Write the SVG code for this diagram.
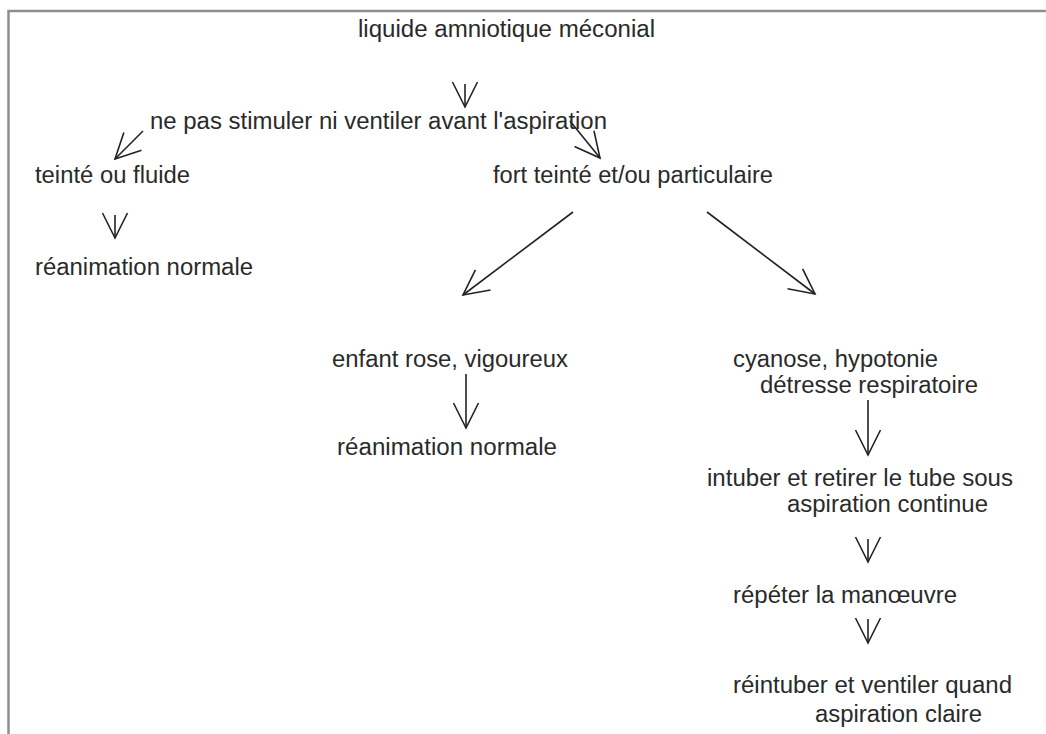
<svg xmlns="http://www.w3.org/2000/svg" width="1046" height="734" viewBox="0 0 1046 734">
<style>
text{font-family:"Liberation Sans",Arial,sans-serif;font-size:23px;fill:#2a2a2a}
.c{fill:none;stroke:#222;stroke-width:1.6}
</style>
<defs>
<marker id="ah" markerUnits="userSpaceOnUse" orient="auto" overflow="visible" markerWidth="1" markerHeight="1" refX="0" refY="0">
<path d="M-25,-12.5 L0,0 L-25,12.5" fill="none" stroke="#222" stroke-width="1.6"/>
</marker>
</defs>
<rect x="0" y="0" width="1046" height="734" fill="#fff"/>
<rect x="8.5" y="11" width="1060" height="760" fill="none" stroke="#8e8e8e" stroke-width="2.5"/>
<g id="n1"><text x="358" y="37" textLength="297" lengthAdjust="spacingAndGlyphs">liquide amniotique méconial</text></g>
<g id="n2"><text x="150" y="129" textLength="457" lengthAdjust="spacingAndGlyphs">ne pas stimuler ni ventiler avant l'aspiration</text></g>
<g id="n3"><text x="35" y="183" textLength="155" lengthAdjust="spacingAndGlyphs">teinté ou fluide</text></g>
<g id="n4"><text x="35" y="275" textLength="218" lengthAdjust="spacingAndGlyphs">réanimation normale</text></g>
<g id="n5"><text x="493" y="183" textLength="280" lengthAdjust="spacingAndGlyphs">fort teinté et/ou particulaire</text></g>
<g id="n6"><text x="332" y="367" textLength="236" lengthAdjust="spacingAndGlyphs">enfant rose, vigoureux</text></g>
<g id="n7"><text x="337" y="455" textLength="220" lengthAdjust="spacingAndGlyphs">réanimation normale</text></g>
<g id="n8"><text x="733" y="367" textLength="205" lengthAdjust="spacingAndGlyphs">cyanose, hypotonie</text><text x="760" y="393" textLength="218" lengthAdjust="spacingAndGlyphs">détresse respiratoire</text></g>
<g id="n9"><text x="707" y="486" textLength="306" lengthAdjust="spacingAndGlyphs">intuber et retirer le tube sous</text><text x="787" y="512" textLength="201" lengthAdjust="spacingAndGlyphs">aspiration continue</text></g>
<g id="n10"><text x="733" y="603" textLength="224" lengthAdjust="spacingAndGlyphs">répéter la manœuvre</text></g>
<g id="n11"><text x="733" y="693" textLength="279" lengthAdjust="spacingAndGlyphs">réintuber et ventiler quand</text><text x="815" y="722" textLength="167" lengthAdjust="spacingAndGlyphs">aspiration claire</text></g>
<g id="connectors">
<path class="c" marker-end="url(#ah)" d="M465,84 L465,107"/>
<path class="c" marker-end="url(#ah)" d="M143,131 L115,159"/>
<path class="c" marker-end="url(#ah)" d="M570,121 L600,158"/>
<path class="c" marker-end="url(#ah)" d="M115,215 L115,238"/>
<path class="c" marker-end="url(#ah)" d="M573,212 L463,295"/>
<path class="c" marker-end="url(#ah)" d="M707,212 L815,294"/>
<path class="c" marker-end="url(#ah)" d="M466,374 L466,428"/>
<path class="c" marker-end="url(#ah)" d="M868,400 L868,455"/>
<path class="c" marker-end="url(#ah)" d="M868,539 L868,562"/>
<path class="c" marker-end="url(#ah)" d="M868,619 L868,643"/>
</g>
</svg>
